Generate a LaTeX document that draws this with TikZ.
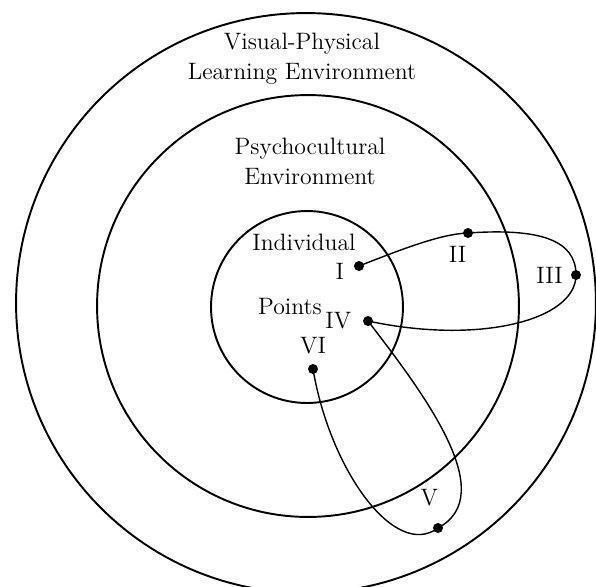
\documentclass[tikz,border=0pt]{standalone}
\usetikzlibrary{positioning}

\begin{document}
\begin{tikzpicture}[
        x=0.02cm, y=-0.02cm,
        every node/.style={align=center, font=\fontsize{13.5}{17}\selectfont},
        ring/.style={draw, circle, line width=1.1pt, inner sep=0pt},
        pt/.style={circle, fill, inner sep=0pt, minimum size=0.2cm},
        route/.style={line width=0.8pt}
    ]
    \useasboundingbox (0,0) rectangle (596,586);

    % Environment rings
    \node[ring, minimum size=11.6cm] (outer) at (306,303) {};
    \node[ring, minimum size=8.44cm] (middle) at (308,306) {};
    \node[ring, minimum size=3.84cm] (inner) at (307,307) {};

    % Ring titles
    \node (visual) at (302,59) {Visual-Physical\\Learning Environment};
    \node (psycho) at (310,161) {Psychocultural\\Environment};
    \node (indiv) at (304,242) {Individual};
    \node (points) at (290,307) {Points};

    % Points I - VI
    \node[pt, label={[label distance=2pt, yshift=-3pt]left:I}] (I) at (359,266) {};
    \node[pt, label={[label distance=1pt, xshift=-6pt]below:II}] (II) at (468,233) {};
    \node[pt, label={[label distance=1pt]left:III}] (III) at (576,275) {};
    \node[pt, label={[label distance=3pt]left:IV}] (IV) at (368,321) {};
    \node[pt, label={[label distance=6pt, xshift=-5pt]above:V}] (V) at (438,528) {};
    \node[pt, label={[label distance=2pt]above:VI}] (VI) at (313,369) {};

    % Route through the points
    \draw[route] (I.center) .. controls (400,250) and (440,234) .. (II.center)
        .. controls (540,228) and (576,240) .. (III.center)
        .. controls (576,320) and (480,345) .. (IV.center)
        .. controls (425,395) and (500,495) .. (V.center)
        .. controls (395,560) and (330,470) .. (VI.center);

\end{tikzpicture}
\end{document}
